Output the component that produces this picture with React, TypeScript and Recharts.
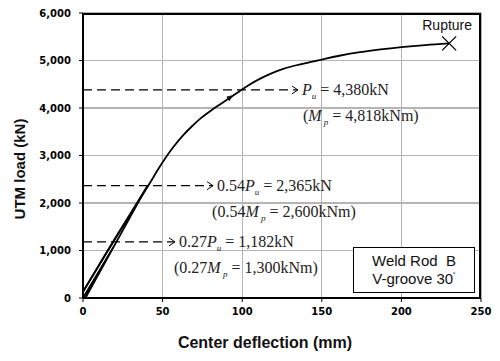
import React from "react";
import { ComposedChart, Line, XAxis, YAxis, CartesianGrid } from "recharts";

// ---- data ----
// loading / unloading cycles
const cycleDeflection: number[] = [0, 21, 1.5, 40.5, 0];
const cycleLoad: number[] = [0, 1182, 0, 2365, 130];
// final loading envelope up to rupture
const envDeflection: number[] = [
  0, 20, 42, 47, 52, 57, 63, 68, 73.5, 79, 84, 89, 93, 98.6, 104, 111, 118,
  125.8, 134, 142.6, 150, 161, 174, 187, 200, 215, 230,
];
const envLoad: number[] = [
  130, 1250, 2420, 2700, 2960, 3190, 3430, 3600, 3770, 3910, 4030, 4140, 4230,
  4360, 4480, 4614, 4725, 4823, 4900, 4965, 5020, 5100, 5174, 5232, 5280, 5325,
  5360,
];

const xTicks = [0, 50, 100, 150, 200, 250];
const yTicks = [0, 1000, 2000, 3000, 4000, 5000, 6000];

const levelLoads = [4380, 2365, 1182];
const levelArrowEnds = [135, 81.7, 57.8];
const levelCoef = ["", "0.54", "0.27"];
const levelP = ["4,380", "2,365", "1,182"];
const levelM = ["4,818", "2,600", "1,300"];

const notchX = 92.6;
const notchY = 4215;
const ruptureX = 230;
const ruptureY = 5360;

const cycleData = cycleDeflection.map((d, i) => ({ x: d, y: cycleLoad[i] }));
const envData = envDeflection.map((d, i) => ({ x: d, y: envLoad[i] }));

const serif = "'Liberation Serif', 'Times New Roman', serif";
const sans = "'Liberation Sans', Arial, sans-serif";
const gridColor = "#b4b4b4";

function makeArrowDot(idx: number) {
  return (props: any) => {
    const { cx, cy, index } = props;
    if (index !== 1) return <g key={`a${idx}-${index}`} />;
    const coef = levelCoef[idx];
    const mLineDx = idx === 0 ? 5 : -1;
    return (
      <g key={`a${idx}-${index}`}>
        <path
          d={`M${cx - 6},${cy - 4} L${cx},${cy} L${cx - 6},${cy + 4}`}
          fill="none"
          stroke="#000"
          strokeWidth={1}
        />
        <text x={cx + 4} y={cy + 5} fontFamily={serif} fontSize={16} fill="#222">
          {coef}
          <tspan fontStyle="italic">P</tspan>
          <tspan fontStyle="italic" fontSize={9} dy={4}>
            u
          </tspan>
          <tspan dy={-4}>{` = ${levelP[idx]}kN`}</tspan>
        </text>
        <text
          x={cx + mLineDx}
          y={cy + 31}
          fontFamily={serif}
          fontSize={16}
          fill="#222"
        >
          {"(" + coef}
          <tspan fontStyle="italic">M</tspan>
          <tspan fontStyle="italic" fontSize={9} dy={4}>
            {" p"}
          </tspan>
          <tspan dy={-4}>{` = ${levelM[idx]}kNm)`}</tspan>
        </text>
      </g>
    );
  };
}

const notchDot = (props: any) => {
  const { cx, cy } = props;
  return (
    <path
      key="notch"
      d={`M${cx + 2},${cy - 2} L${cx - 3.5},${cy - 1} L${cx - 1},${cy + 3} Z`}
      fill="#000"
      stroke="#000"
      strokeWidth={0.6}
    />
  );
};

const ruptureDot = (props: any) => {
  const { cx, cy } = props;
  const s = 7;
  return (
    <g key="rupture">
      <path
        d={`M${cx - s},${cy - s} L${cx + s},${cy + s} M${cx - s},${cy + s} L${cx + s},${cy - s}`}
        stroke="#000"
        strokeWidth={1.3}
      />
      <text
        x={cx - 2}
        y={cy - 13}
        textAnchor="middle"
        fontFamily={sans}
        fontSize={14}
        fill="#111"
      >
        Rupture
      </text>
    </g>
  );
};

const tickStyle = {
  fontFamily: "'DejaVu Sans', Verdana, sans-serif",
  fontWeight: "bold",
  fontSize: 10,
  fill: "#000",
};

export default function App() {
  return (
    <div
      style={{
        position: "absolute",
        left: 0,
        top: 0,
        width: 500,
        height: 361,
        background: "#fff",
      }}
    >
      <ComposedChart
        width={500}
        height={361}
        data={envData}
        margin={{ top: 13, right: 19, left: 0, bottom: 0 }}
      >
        <CartesianGrid
          stroke={gridColor}
          strokeWidth={1.2}
          shapeRendering="crispEdges"
          horizontalValues={yTicks}
          verticalValues={xTicks}
        />
        <XAxis
          type="number"
          dataKey="x"
          domain={[0, 250]}
          ticks={xTicks}
          height={63}
          tickSize={4}
          tickMargin={6}
          stroke="#000"
          axisLine={{ stroke: "#000", strokeWidth: 2 }}
          tick={tickStyle}
        />
        <YAxis
          type="number"
          domain={[0, 6000]}
          ticks={yTicks}
          width={83}
          tickSize={4}
          tickMargin={8}
          stroke="#000"
          axisLine={{ stroke: "#000", strokeWidth: 2 }}
          tickFormatter={(v: number) => v.toLocaleString("en-US")}
          tick={tickStyle}
        />
        {xTicks.slice(1, -1).map((v) => (
          <Line
            key={`gx${v}`}
            data={[
              { x: v, y: 0 },
              { x: v, y: 6000 },
            ]}
            dataKey="y"
            stroke={gridColor}
            strokeWidth={1.2}
            shapeRendering="crispEdges"
            dot={false}
            activeDot={false}
            isAnimationActive={false}
          />
        ))}
        {yTicks.slice(1, -1).map((v) => (
          <Line
            key={`gy${v}`}
            data={[
              { x: 0, y: v },
              { x: 250, y: v },
            ]}
            dataKey="y"
            stroke={gridColor}
            strokeWidth={1.2}
            shapeRendering="crispEdges"
            dot={false}
            activeDot={false}
            isAnimationActive={false}
          />
        ))}
        {levelLoads.map((lv, i) => (
          <Line
            key={`lvl${i}`}
            data={[
              { x: 0, y: lv },
              { x: levelArrowEnds[i], y: lv },
            ]}
            dataKey="y"
            stroke="#000"
            strokeWidth={1.2}
            strokeDasharray="9 5"
            dot={makeArrowDot(i)}
            activeDot={false}
            isAnimationActive={false}
          />
        ))}
        <Line
          data={cycleData}
          dataKey="y"
          type="linear"
          stroke="#000"
          strokeWidth={1.8}
          dot={false}
          activeDot={false}
          isAnimationActive={false}
        />
        <Line
          data={envData}
          dataKey="y"
          type="monotone"
          stroke="#000"
          strokeWidth={1.8}
          dot={false}
          activeDot={false}
          isAnimationActive={false}
        />
        <Line
          data={[{ x: notchX, y: notchY }]}
          dataKey="y"
          stroke="none"
          dot={notchDot}
          activeDot={false}
          isAnimationActive={false}
        />
        <Line
          data={[{ x: ruptureX, y: ruptureY }]}
          dataKey="y"
          stroke="none"
          dot={ruptureDot}
          activeDot={false}
          isAnimationActive={false}
        />
        <text
          x={265}
          y={348}
          textAnchor="middle"
          fontFamily={sans}
          fontWeight="bold"
          fontSize={16}
          fill="#111"
        >
          Center deflection (mm)
        </text>
        <text
          x={25}
          y={169}
          textAnchor="middle"
          transform="rotate(-90 25 169)"
          fontFamily={sans}
          fontWeight="bold"
          fontSize={15}
          fill="#111"
        >
          UTM load (kN)
        </text>
      </ComposedChart>
      <div
        style={{
          position: "absolute",
          left: 83,
          top: 13,
          width: 398,
          height: 285,
          boxSizing: "border-box",
          borderTop: "2px solid #000",
          borderRight: "2px solid #000",
          pointerEvents: "none",
        }}
      />
      <div
        style={{
          position: "absolute",
          left: 353,
          top: 247,
          width: 120,
          height: 44,
          border: "1px solid #000",
          background: "#fff",
          fontFamily: sans,
          fontSize: 15,
          lineHeight: "18px",
          textAlign: "center",
          color: "#111",
          display: "flex",
          flexDirection: "column",
          justifyContent: "center",
        }}
      >
        <div>Weld Rod&nbsp; B</div>
        <div>
          V-groove 30
          <sup style={{ fontSize: 8, verticalAlign: "top", lineHeight: "12px" }}>˚</sup>
        </div>
      </div>
    </div>
  );
}
